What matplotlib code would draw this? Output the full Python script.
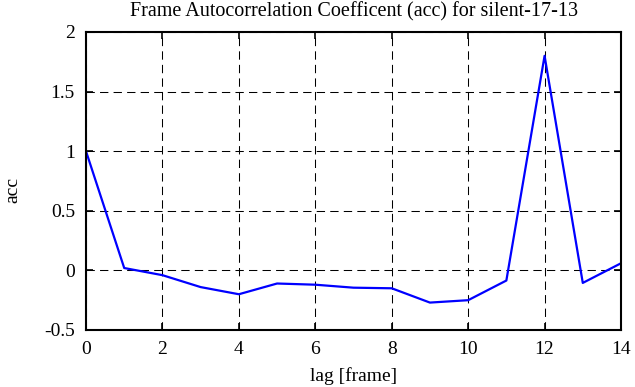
import matplotlib
matplotlib.use("Agg")
import matplotlib.pyplot as plt

# --- Data ---
lags = [0, 1, 2, 3, 4, 5, 6, 7, 8, 9, 10, 11, 12, 13, 14]
acc = [1.0, 0.02, -0.04, -0.14, -0.20, -0.11, -0.12, -0.145, -0.15,
       -0.27, -0.25, -0.085, 1.8, -0.105, 0.06]

x_ticks = [0, 2, 4, 6, 8, 10, 12, 14]
y_ticks = [-0.5, 0, 0.5, 1, 1.5, 2]
y_tick_labels = ["-0.5", "0", "0.5", "1", "1.5", "2"]

plt.rcParams['font.family'] = ['Liberation Serif', 'DejaVu Serif']

fig = plt.figure(figsize=(6.35, 3.87), dpi=100)
ax = fig.add_axes([86 / 635, 1 - 330 / 387, (621 - 86) / 635, (330 - 32) / 387])

ax.plot(lags, acc, color='#0000ff', linewidth=1.6)

ax.set_xlim(0, 14)
ax.set_ylim(-0.5, 2)
ax.set_xticks(x_ticks)
ax.set_xticklabels([str(t) for t in x_ticks])
ax.set_yticks(y_ticks)
ax.set_yticklabels(y_tick_labels)

# gnuplot-like dashed grid
ax.grid(True, color='black', linestyle=(0, (8, 5)), linewidth=0.75)
ax.tick_params(direction='in', length=5, width=1.2, top=True, right=True,
               labelsize=14)
ax.tick_params(axis='x', pad=8)
ax.tick_params(axis='y', pad=8)
for s in ax.spines.values():
    s.set_linewidth(1.5)

ax.set_title("Frame Autocorrelation Coefficent (acc) for silent-17-13",
             fontsize=14.5, pad=11)
ax.set_xlabel("lag [frame]", fontsize=14)
ax.set_ylabel("acc", fontsize=14)
ax.xaxis.set_label_coords(0.5, (330 - 376) / 298)
ax.xaxis.label.set_va('center')
ax.yaxis.set_label_coords((13 - 86) / 535, (330 - 190) / 298)
ax.yaxis.label.set_va('center')

fig.savefig("out.png", dpi=100)
